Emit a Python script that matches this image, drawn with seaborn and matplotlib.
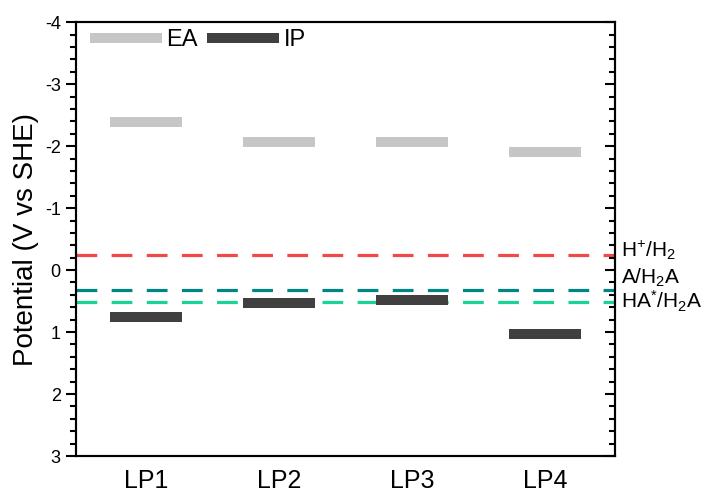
import numpy as np
import pandas as pd
import matplotlib
matplotlib.use("Agg")
import matplotlib.pyplot as plt
from matplotlib.lines import Line2D
from matplotlib.ticker import MultipleLocator
import seaborn as sns

# Band-edge levels of each material (V vs SHE)
categories = ["LP1", "LP2", "LP3", "LP4"]
ea_levels = [-2.39, -2.07, -2.07, -1.91]
ip_levels = [0.76, 0.53, 0.48, 1.03]

# Reference redox potentials (V vs SHE)
redox_names = ["H$^{+}$/H$_2$", "A/H$_2$A", "HA$^{*}$/H$_2$A"]
redox_values = [-0.24, 0.32, 0.51]
redox_colors = ["#F24848", "#008585", "#18D595"]
redox_label_offsets = [-0.08, -0.19, 0.0]

y_ticks = [-4, -3, -2, -1, 0, 1, 2, 3]

sns.set_theme(style="ticks")
plt.rcParams["font.family"] = ["Liberation Sans", "DejaVu Sans"]
plt.rcParams["mathtext.fontset"] = "custom"
plt.rcParams["mathtext.rm"] = "Liberation Sans"
plt.rcParams["mathtext.it"] = "Liberation Sans:italic"
plt.rcParams["mathtext.bf"] = "Liberation Sans:bold"
plt.rcParams["axes.unicode_minus"] = False
for key in ("text.color", "axes.labelcolor", "xtick.color", "ytick.color", "axes.edgecolor"):
    plt.rcParams[key] = "black"

EA_COLOR = "#C6C6C6"
IP_COLOR = "#404040"
BAR_W = 0.54

# Each level is drawn as a short horizontal segment centred on its category
rows = []
for i, cat in enumerate(categories):
    for kind, vals in (("EA", ea_levels), ("IP", ip_levels)):
        for dx in (-BAR_W / 2, BAR_W / 2):
            rows.append({"x": i + dx, "E": vals[i], "kind": kind, "seg": f"{cat}-{kind}"})
levels = pd.DataFrame(rows)

fig = plt.figure(figsize=(7.13, 4.93), dpi=100)
ax = fig.add_axes([0.1066, 0.075, 0.862 - 0.1066, 0.955 - 0.075])

sns.lineplot(data=levels, x="x", y="E", hue="kind", units="seg", estimator=None,
             sort=False, palette={"EA": EA_COLOR, "IP": IP_COLOR},
             lw=7.2, solid_capstyle="butt", legend=False, ax=ax)

for val, col in zip(redox_values, redox_colors):
    ax.axhline(val, color=col, lw=2.3, dashes=(6.5, 4.5), zorder=1)

ax.set_xlim(-0.526, 3.52)
ax.set_ylim(3, -4)
ax.set_xticks(range(len(categories)))
ax.set_xticklabels(categories, fontsize=18)
ax.set_yticks(y_ticks)
ax.set_yticklabels([str(t) for t in y_ticks], fontsize=13)
ax.yaxis.set_minor_locator(MultipleLocator(0.2))
ax.set_xlabel("")
ax.set_ylabel("Potential (V vs SHE)", fontsize=20, labelpad=4)

ax.tick_params(axis="x", length=0, pad=9)
ax.tick_params(axis="y", which="major", direction="out", length=7, width=1.5, pad=4)
ax.tick_params(axis="y", which="minor", direction="out", length=4, width=1.5)
for sp in ax.spines.values():
    sp.set_linewidth(1.5)
    sp.set_color("black")

# Mirrored right axis with inward ticks
ax2 = ax.twinx()
ax2.set_ylim(ax.get_ylim())
ax2.set_yticks(y_ticks)
ax2.yaxis.set_minor_locator(MultipleLocator(0.2))
ax2.tick_params(axis="y", which="major", direction="in", length=7, width=1.5, labelright=False)
ax2.tick_params(axis="y", which="minor", direction="in", length=4, width=1.5)
for sp in ax2.spines.values():
    sp.set_linewidth(1.5)
    sp.set_color("black")

# Redox couple labels beside the right axis
trans = matplotlib.transforms.blended_transform_factory(ax.transAxes, ax.transData)
for name, val, off in zip(redox_names, redox_values, redox_label_offsets):
    ax.text(1.012, val + off, name, transform=trans, fontsize=15,
            va="center", ha="left", clip_on=False)

handles = [Line2D([], [], color=EA_COLOR, lw=7.2, solid_capstyle="butt"),
           Line2D([], [], color=IP_COLOR, lw=7.2, solid_capstyle="butt")]
ax.legend(handles, ["EA", "IP"], loc="upper left", bbox_to_anchor=(0.012, 1.0),
          ncol=2, frameon=False, fontsize=17, handlelength=3.05,
          handletextpad=0.2, columnspacing=0.4, borderaxespad=0.1,
          borderpad=0.2)

fig.savefig("out.png", dpi=100)
